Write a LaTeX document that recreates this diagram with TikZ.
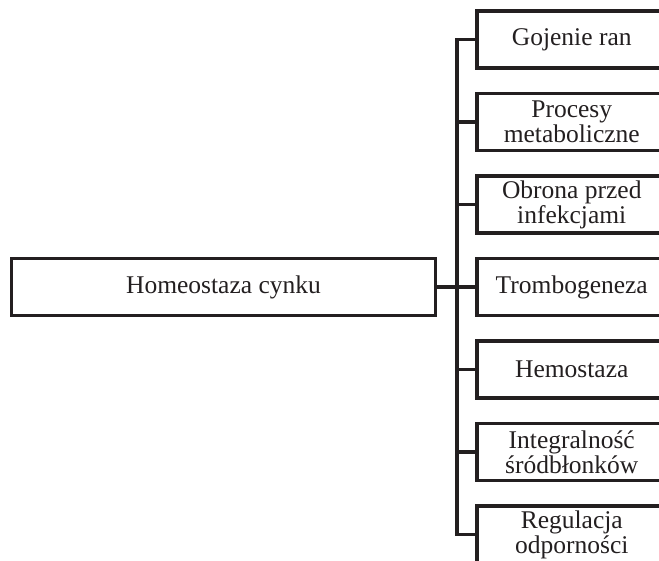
\documentclass[tikz,border=0pt]{standalone}
\usepackage{fontspec}
\setmainfont{Liberation Serif}
\usepackage{xcolor}
\usepackage{tikz}
\definecolor{ink}{RGB}{35,31,32}
\tikzset{
  mainbox/.style={draw=ink, line width=3.5pt, minimum width=424pt, minimum height=57pt,
    text=ink, font=\fontsize{25.5}{25}\selectfont},
  effbox/.style={draw=ink, line width=3.5pt, minimum width=190pt, minimum height=57pt,
    anchor=west, align=center, text=ink, font=\fontsize{25.5}{25}\selectfont},
  link/.style={draw=ink, line width=3.5pt}
}
\begin{document}
\begin{tikzpicture}[x=1pt,y=-1pt]
\useasboundingbox (0,0) rectangle (659,560);
\clip (0,0) rectangle (659,560);

\coordinate (S) at (457,287);

\node[mainbox] (H) at (223.5,287) {Homeostaza cynku};

\node[effbox] (E1) at (475,39.5) {Gojenie ran};
\node[effbox] (E2) at (475,122) {Procesy\\metaboliczne};
\node[effbox] (E3) at (475,204.5) {Obrona przed\\infekcjami};
\node[effbox] (E4) at (475,287) {Trombogeneza};
\node[effbox] (E5) at (475,369.5) {Hemostaza};
\node[effbox] (E6) at (475,452) {Integralność\\śródbłonków};
\node[effbox] (E7) at (475,534.5) {Regulacja\\odporności};

\draw[link] (E1.west) -- (E1.west -| S) -- (E7.west -| S) -- (E7.west);
\draw[link] (H.east) -- (E4.west);
\draw[link] (E2.west) -- (E2.west -| S);
\draw[link] (E3.west) -- (E3.west -| S);
\draw[link] (E5.west) -- (E5.west -| S);
\draw[link] (E6.west) -- (E6.west -| S);
\end{tikzpicture}
\end{document}
